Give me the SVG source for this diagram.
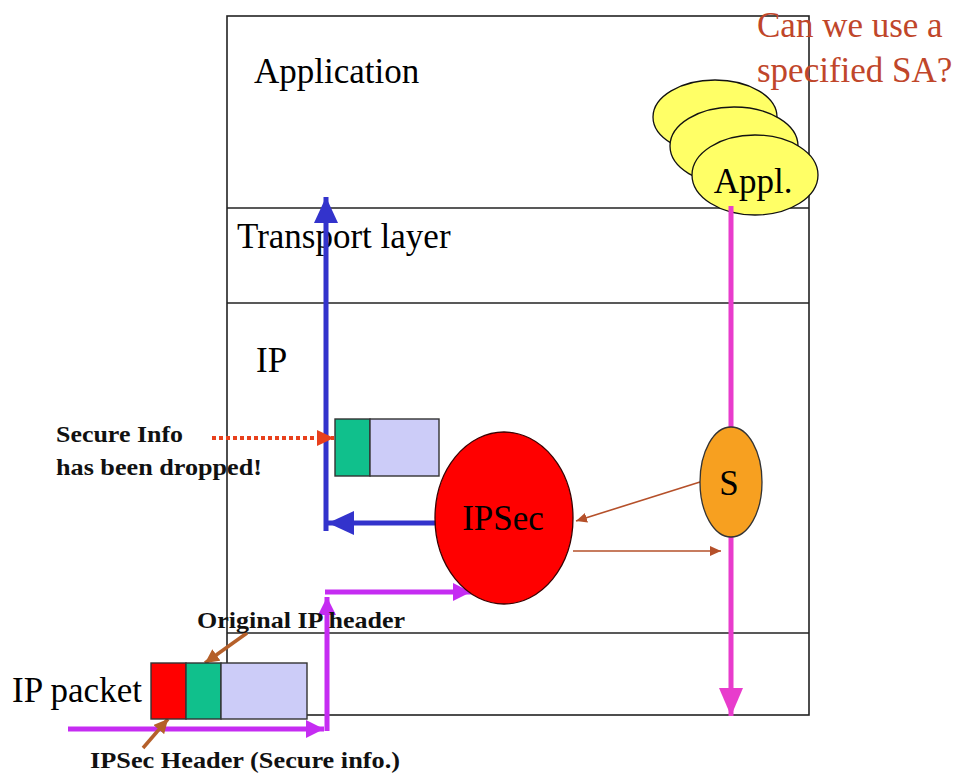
<svg xmlns="http://www.w3.org/2000/svg" width="954" height="776" viewBox="0 0 954 776">
  <style>
    .layer { fill: none; stroke: #222; stroke-width: 1.6; }
    .big { font-family: 'Liberation Serif', 'DejaVu Serif', serif; font-size: 35px; fill: #000; }
    .note { font-family: 'Liberation Serif', 'DejaVu Serif', serif; font-size: 23px; font-weight: bold; fill: #111; }
    .ask { font-family: 'Liberation Serif', 'DejaVu Serif', serif; font-size: 35px; fill: #c0462a; }
    .cell { stroke: #333; stroke-width: 1.4; }
    .blue { fill: none; stroke: #3333cc; stroke-width: 5; }
    .violet { fill: none; stroke: #c52cf2; stroke-width: 5; }
    .pink { fill: none; stroke: #e83ccc; stroke-width: 5; }
    .brown { fill: none; stroke: #b5502a; stroke-width: 1.6; }
    .pointer { fill: none; stroke: #b5602a; stroke-width: 3.5; }
  </style>
  <defs>
    <marker id="headBlue" markerUnits="userSpaceOnUse" markerWidth="26" markerHeight="24" refX="26" refY="12" orient="auto" viewBox="0 0 26 24">
      <path d="M0,0 L26,12 L0,24 z" fill="#3333cc"/>
    </marker>
    <marker id="headViolet" markerUnits="userSpaceOnUse" markerWidth="18" markerHeight="18" refX="18" refY="9" orient="auto" viewBox="0 0 18 18">
      <path d="M0,0 L18,9 L0,18 z" fill="#c52cf2"/>
    </marker>
    <marker id="headPink" markerUnits="userSpaceOnUse" markerWidth="28" markerHeight="24" refX="28" refY="12" orient="auto" viewBox="0 0 28 24">
      <path d="M0,0 L28,12 L0,24 z" fill="#e83ccc"/>
    </marker>
    <marker id="headRed" markerUnits="userSpaceOnUse" markerWidth="17" markerHeight="16" refX="17" refY="8" orient="auto" viewBox="0 0 17 16">
      <path d="M0,0 L17,8 L0,16 z" fill="#e8401c"/>
    </marker>
    <marker id="headBrown" markerUnits="userSpaceOnUse" markerWidth="11" markerHeight="10" refX="11" refY="5" orient="auto" viewBox="0 0 11 10">
      <path d="M0,0 L11,5 L0,10 z" fill="#b5502a"/>
    </marker>
    <marker id="headPointer" markerUnits="userSpaceOnUse" markerWidth="14" markerHeight="14" refX="14" refY="7" orient="auto" viewBox="0 0 14 14">
      <path d="M0,0 L14,7 L0,14 z" fill="#b5602a"/>
    </marker>
  </defs>

  <!-- protocol stack frame -->
  <g id="stack">
    <rect class="layer" x="227" y="16" width="582" height="699"/>
    <line class="layer" x1="227" y1="208" x2="809" y2="208"/>
    <line class="layer" x1="227" y1="303" x2="809" y2="303"/>
    <line class="layer" x1="227" y1="633" x2="809" y2="633"/>
    <text class="big" x="254" y="83">Application</text>
    <text class="big" x="237" y="248">Transport layer</text>
    <text class="big" x="256" y="372">IP</text>
  </g>

  <!-- question -->
  <g id="question">
    <text class="ask" x="757" y="37">Can we use a</text>
    <text class="ask" x="757" y="82">specified SA?</text>
  </g>

  <!-- stacked applications -->
  <g id="appl">
    <ellipse cx="715" cy="117" rx="62" ry="37" fill="#ffff66" stroke="#111" stroke-width="1.3"/>
    <ellipse cx="734" cy="146" rx="64" ry="39" fill="#ffff66" stroke="#111" stroke-width="1.3"/>
    <ellipse cx="755" cy="175" rx="63" ry="40" fill="#ffff66" stroke="#111" stroke-width="1.3"/>
    <text class="big" x="753" y="193" text-anchor="middle">Appl.</text>
  </g>

  <!-- connectors -->
  <g id="connectors">
    <!-- outbound path from application down through the selector -->
    <line class="pink" x1="731" y1="206" x2="731" y2="716" marker-end="url(#headPink)"/>
    <!-- inbound packet path -->
    <line class="violet" x1="68" y1="729" x2="324" y2="729" marker-end="url(#headViolet)"/>
    <line class="violet" x1="327" y1="731" x2="327" y2="597" marker-end="url(#headViolet)"/>
    <line class="violet" x1="325" y1="592" x2="471" y2="592" marker-end="url(#headViolet)"/>
    <!-- decrypted packet goes up -->
    <line class="blue" x1="443" y1="523" x2="328" y2="523" marker-end="url(#headBlue)"/>
    <line class="blue" x1="326" y1="531" x2="326" y2="197" marker-end="url(#headBlue)"/>
    <!-- selector exchange with IPSec -->
    <line class="brown" x1="700" y1="482" x2="576" y2="521" marker-end="url(#headBrown)"/>
    <line class="brown" x1="573" y1="551" x2="721" y2="551" marker-end="url(#headBrown)"/>
    <!-- dropped info -->
    <line x1="212" y1="438" x2="334" y2="438" stroke="#e8401c" stroke-width="4" stroke-dasharray="4 3" marker-end="url(#headRed)"/>
    <!-- label pointers -->
    <line class="pointer" x1="247" y1="633" x2="205" y2="663" marker-end="url(#headPointer)"/>
    <line class="pointer" x1="143" y1="748" x2="168" y2="719" marker-end="url(#headPointer)"/>
  </g>

  <!-- IPSec engine -->
  <g id="ipsec">
    <ellipse cx="504" cy="518" rx="69" ry="86" fill="#ff0000" stroke="#3a0000" stroke-width="1.3"/>
    <text class="big" x="503" y="530" text-anchor="middle">IPSec</text>
  </g>

  <!-- SA selector -->
  <g id="selector">
    <ellipse cx="731" cy="482" rx="31" ry="55" fill="#f7a020" stroke="#333" stroke-width="1.3"/>
    <text class="big" x="729" y="495" text-anchor="middle">S</text>
  </g>

  <!-- stripped packet -->
  <g id="stripped-packet">
    <rect class="cell" x="335" y="419" width="35" height="57" fill="#10c08c"/>
    <rect class="cell" x="370" y="419" width="69" height="57" fill="#ccccf8"/>
  </g>

  <!-- incoming IP packet -->
  <g id="ip-packet">
    <rect class="cell" x="151" y="663" width="35" height="56" fill="#ff0000"/>
    <rect class="cell" x="186" y="663" width="35" height="56" fill="#10c08c"/>
    <rect class="cell" x="221" y="663" width="86" height="56" fill="#ccccf8"/>
    <text class="big" x="12" y="702">IP packet</text>
  </g>

  <!-- annotations -->
  <g id="notes">
    <text class="note" x="56" y="442" textLength="127" lengthAdjust="spacingAndGlyphs">Secure Info</text>
    <text class="note" x="56" y="475" textLength="206" lengthAdjust="spacingAndGlyphs">has been dropped!</text>
    <text class="note" x="197" y="628" textLength="208" lengthAdjust="spacingAndGlyphs">Original IP header</text>
    <text class="note" x="90" y="768" textLength="310" lengthAdjust="spacingAndGlyphs">IPSec Header (Secure info.)</text>
  </g>
</svg>
